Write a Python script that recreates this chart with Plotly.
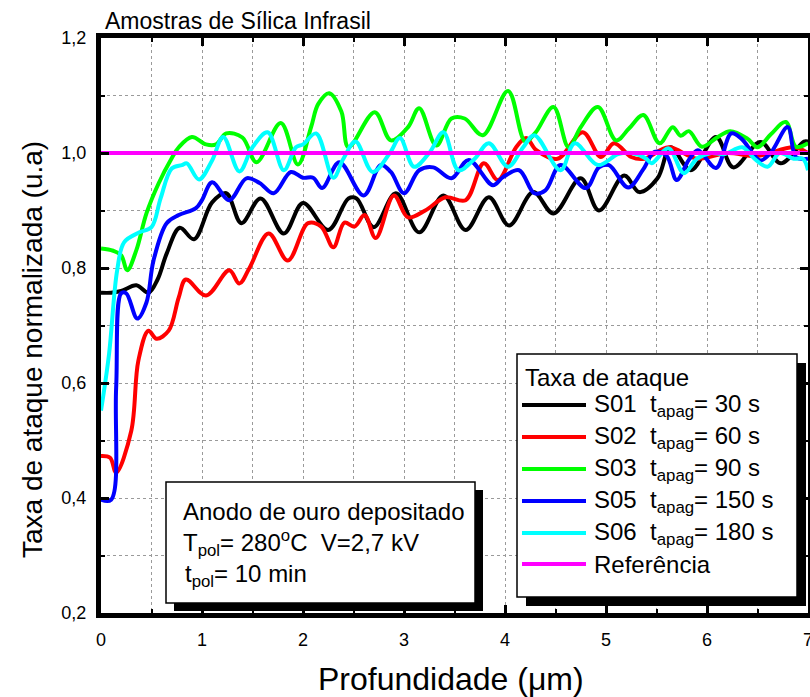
import plotly.graph_objects as go

# ---------------- data ----------------
black_x = [0, 0.1, 0.2, 0.35, 0.47, 0.56, 0.65, 0.78, 0.92, 1.1, 1.24, 1.39, 1.58, 1.81, 2.0, 2.25, 2.45, 2.53, 2.70,
           2.92, 3.15, 3.39, 3.61, 3.84, 4.04, 4.28, 4.48, 4.75, 4.93, 5.18, 5.33, 5.51, 5.64, 5.84, 6.09, 6.26, 6.53,
           6.73, 6.96, 7.0]
black_y = [0.757, 0.757, 0.76, 0.77, 0.757, 0.78, 0.825, 0.87, 0.85, 0.914, 0.93, 0.878, 0.921, 0.86, 0.913, 0.866,
           0.921, 0.921, 0.871, 0.93, 0.862, 0.926, 0.866, 0.923, 0.874, 0.932, 0.895, 0.956, 0.9, 0.961, 0.932, 0.956,
           1.01, 0.97, 1.028, 0.975, 1.019, 0.982, 1.02, 1.02]

red_x = [0, 0.09, 0.15, 0.3, 0.37, 0.47, 0.55, 0.67, 0.77, 0.84, 1.04, 1.27, 1.37, 1.47, 1.66, 1.85, 2.05, 2.18, 2.30,
         2.41, 2.51, 2.61, 2.72, 2.9, 3.04, 3.21, 3.41, 3.61, 3.79, 3.93, 4.11, 4.21, 4.31, 4.52, 4.77, 4.95, 5.08,
         5.25, 5.38, 5.62, 5.9, 6.2, 6.5, 6.86, 7.0]
red_y = [0.473, 0.47, 0.444, 0.517, 0.639, 0.691, 0.677, 0.691, 0.749, 0.78, 0.752, 0.796, 0.773, 0.8, 0.86, 0.813,
         0.878, 0.872, 0.836, 0.879, 0.872, 0.892, 0.852, 0.926, 0.888, 0.9, 0.923, 0.918, 0.982, 0.953, 1.01, 1.026,
         1.005, 0.99, 1.036, 0.993, 1.017, 0.993, 0.99, 1.01, 0.99, 1.0, 0.995, 1.01, 1.0]

green_x = [0, 0.12, 0.2, 0.26, 0.35, 0.45, 0.57, 0.70, 0.77, 0.90, 1.04, 1.14, 1.24, 1.4, 1.54, 1.78, 1.95, 2.08, 2.15,
           2.26, 2.38, 2.45, 2.71, 2.87, 3.04, 3.15, 3.32, 3.47, 3.6, 3.78, 4.03, 4.2, 4.3, 4.48, 4.63, 4.75, 4.92,
           5.1, 5.23, 5.37, 5.53, 5.66, 5.74, 5.82, 5.95, 6.1, 6.23, 6.4, 6.5, 6.63, 6.78, 6.88, 7.0]
green_y = [0.834, 0.83, 0.822, 0.796, 0.831, 0.895, 0.947, 0.991, 1.01, 1.028, 1.015, 1.015, 1.034, 1.027, 0.984,
           1.052, 0.98, 1.045, 1.085, 1.104, 1.072, 1.01, 1.071, 1.022, 1.045, 1.078, 1.013, 1.06, 1.06, 1.031, 1.108,
           1.02, 1.035, 1.08, 1.01, 1.045, 1.08, 1.022, 1.043, 1.066, 1.017, 1.045, 1.03, 1.038, 1.011, 1.027, 1.038,
           1.025, 1.01, 1.032, 1.054, 1.011, 1.017]

blue_x = [0, 0.1, 0.15, 0.2, 0.25, 0.36, 0.45, 0.52, 0.65, 0.77, 0.94, 1.0, 1.1, 1.27, 1.44, 1.57, 1.71, 1.88, 2.0,
          2.1, 2.19, 2.36, 2.6, 2.77, 2.87, 3.0, 3.15, 3.29, 3.47, 3.64, 3.88, 3.98, 4.14, 4.29, 4.4, 4.55, 4.8, 4.93,
          5.03, 5.22, 5.37, 5.48, 5.6, 5.7, 5.82, 5.91, 6.09, 6.24, 6.34, 6.46, 6.53, 6.63, 6.8, 6.88, 7.0]
blue_y = [0.397, 0.397, 0.592, 0.756, 0.756, 0.712, 0.74, 0.813, 0.878, 0.892, 0.904, 0.918, 0.949, 0.918, 0.956,
          0.948, 0.93, 0.967, 0.957, 0.957, 0.939, 0.984, 0.926, 0.979, 0.967, 0.93, 0.97, 0.975, 0.956, 0.988, 0.944,
          0.958, 0.97, 0.93, 0.935, 0.979, 0.939, 0.975, 0.979, 0.94, 0.972, 1.002, 0.995, 0.953, 0.988, 1.005, 0.974,
          1.034, 1.025, 0.998, 0.987, 1.0, 1.045, 0.993, 0.99]

cyan_x = [0, 0.08, 0.16, 0.23, 0.38, 0.5, 0.59, 0.7, 0.8, 0.85, 0.97, 1.1, 1.21, 1.37, 1.5, 1.65, 1.81, 1.93, 2.0,
          2.13, 2.3, 2.4, 2.52, 2.69, 2.86, 2.96, 3.1, 3.25, 3.39, 3.54, 3.7, 3.84, 4.03, 4.18, 4.29, 4.55, 4.69, 4.92,
          5.12, 5.25, 5.4, 5.45, 5.62, 5.77, 5.9, 6.04, 6.17, 6.35, 6.47, 6.6, 6.72, 6.86, 6.95, 7.0]
cyan_y = [0.552, 0.651, 0.796, 0.845, 0.862, 0.871, 0.921, 0.973, 0.979, 0.982, 0.954, 0.987, 1.028, 0.968, 1.01,
          1.036, 0.97, 1.01, 1.015, 1.034, 0.957, 0.99, 1.02, 0.967, 1.0, 1.026, 0.976, 1.0, 1.036, 0.97, 0.99, 1.017,
          0.976, 1.01, 1.031, 0.97, 1.017, 0.979, 0.998, 1.0, 0.99, 0.982, 1.008, 0.965, 0.99, 1.0, 0.998, 1.01, 0.99,
          0.976, 1.0, 0.99, 0.99, 0.97]

ref_x = [0, 7]
ref_y = [1.0, 1.0]

series_names = ["S01", "S02", "S03", "S05", "S06"]
series_times = [30, 60, 90, 150, 180]
series_colors = ["#000000", "#FF0000", "#00FF00", "#0000FF", "#00FFFF"]
ref_name = "Referência"
ref_color = "#FF00FF"

x_ticks = [0, 1, 2, 3, 4, 5, 6, 7]
y_ticks = [0.2, 0.4, 0.6, 0.8, 1.0, 1.2]

FONT = "Liberation Sans, Arial, sans-serif"

# ---------------- figure ----------------
fig = go.Figure()
xs = [black_x, red_x, green_x, blue_x, cyan_x]
ys = [black_y, red_y, green_y, blue_y, cyan_y]
for name, t, c, x, y in zip(series_names, series_times, series_colors, xs, ys):
    fig.add_trace(go.Scatter(x=x, y=y, mode="lines", name=f"{name} t_apag={t} s",
                             line=dict(color=c, width=4, shape="spline", smoothing=1.0),
                             showlegend=False))
fig.add_trace(go.Scatter(x=ref_x, y=ref_y, mode="lines", name=ref_name,
                         line=dict(color=ref_color, width=4), showlegend=False))

L, R, T, B = 101, 2, 38, 84
W, H = 810, 697
PW, PH = W - L - R, H - T - B


def px(xp, yp):
    return (xp - L) / PW, (H - B - yp) / PH


shapes = []
annotations = []


def box(x0, y0, x1, y1, off):
    a0 = px(x0 + off, y0 + off)
    a1 = px(x1 + off, y1 + off)
    shapes.append(dict(type="rect", xref="paper", yref="paper", x0=a0[0], y0=a0[1], x1=a1[0], y1=a1[1],
                       fillcolor="black", line=dict(width=0), layer="above"))
    b0 = px(x0, y0)
    b1 = px(x1, y1)
    shapes.append(dict(type="rect", xref="paper", yref="paper", x0=b0[0], y0=b0[1], x1=b1[0], y1=b1[1],
                       fillcolor="white", line=dict(color="black", width=1.5), layer="above"))


def text(xp, yp, s, size, xanchor="left", angle=0):
    p = px(xp, yp)
    annotations.append(dict(xref="paper", yref="paper", x=p[0], y=p[1], text=s, showarrow=False,
                            xanchor=xanchor, yanchor="middle", textangle=angle,
                            font=dict(family=FONT, size=size, color="black")))


# legend box
box(517, 354, 797, 597, 9)
text(523, 377, "Taxa de ataque", 24)
rows = [405, 437, 469, 501, 533, 564]
labels = [f"{n}\u00a0\u00a0t<sub>apag</sub>= {t} s" for n, t in zip(series_names, series_times)] + [ref_name]
colors = series_colors + [ref_color]
for r, lab, c in zip(rows, labels, colors):
    a = px(522, r)
    b = px(586, r)
    shapes.append(dict(type="line", xref="paper", yref="paper", x0=a[0], y0=a[1], x1=b[0], y1=b[1],
                       line=dict(color=c, width=4), layer="above"))
    text(592, r, lab, 24)

# info box
box(166, 482, 475, 603, 8)
text(181, 511, "Anodo de ouro depositado", 24)
text(181, 543, "T<sub>pol</sub>= 280<sup>o</sup>C\u00a0\u00a0V=2,7 kV", 24)
text(183, 575, "t<sub>pol</sub>= 10 min", 24)

# title and axis titles
text(103, 21, "Amostras de Sílica Infrasil", 23)
text(451, 679, "Profundidade (μm)", 32, xanchor="center")
text(33, 350, "Taxa de ataque normalizada (u.a)", 28, xanchor="center", angle=-90)

axis_common = dict(ticks="inside", ticklen=8, tickwidth=3, tickcolor="black", mirror="ticks",
                   showline=True, linewidth=5, linecolor="black", showgrid=True, gridcolor="#9a9a9a",
                   griddash="dot", gridwidth=1, zeroline=False, ticklabeloverflow="allow",
                   tickfont=dict(family=FONT, size=18, color="black"))

fig.update_xaxes(range=[0, 7], tickmode="array", tickvals=x_ticks, tickformat="d",
                 minor=dict(dtick=0.5, ticks="inside", ticklen=4, tickwidth=2, tickcolor="black",
                            showgrid=True, gridcolor="#9a9a9a", griddash="dot", gridwidth=1),
                 ticklabelstandoff=6, **axis_common)
fig.update_yaxes(range=[0.2, 1.2], tickmode="array", tickvals=y_ticks, tickformat=".1f",
                 minor=dict(dtick=0.1, tick0=0.2, ticks="inside", ticklen=4, tickwidth=2, tickcolor="black",
                            showgrid=True, gridcolor="#9a9a9a", griddash="dot", gridwidth=1),
                 ticklabelstandoff=6, **axis_common)

fig.update_layout(width=W, height=H, margin=dict(l=L, r=R, t=T, b=B, autoexpand=False),
                  paper_bgcolor="white", plot_bgcolor="white", separators=",.",
                  font=dict(family=FONT, color="black"), showlegend=False,
                  shapes=shapes, annotations=annotations)

fig.write_html("out.html")
